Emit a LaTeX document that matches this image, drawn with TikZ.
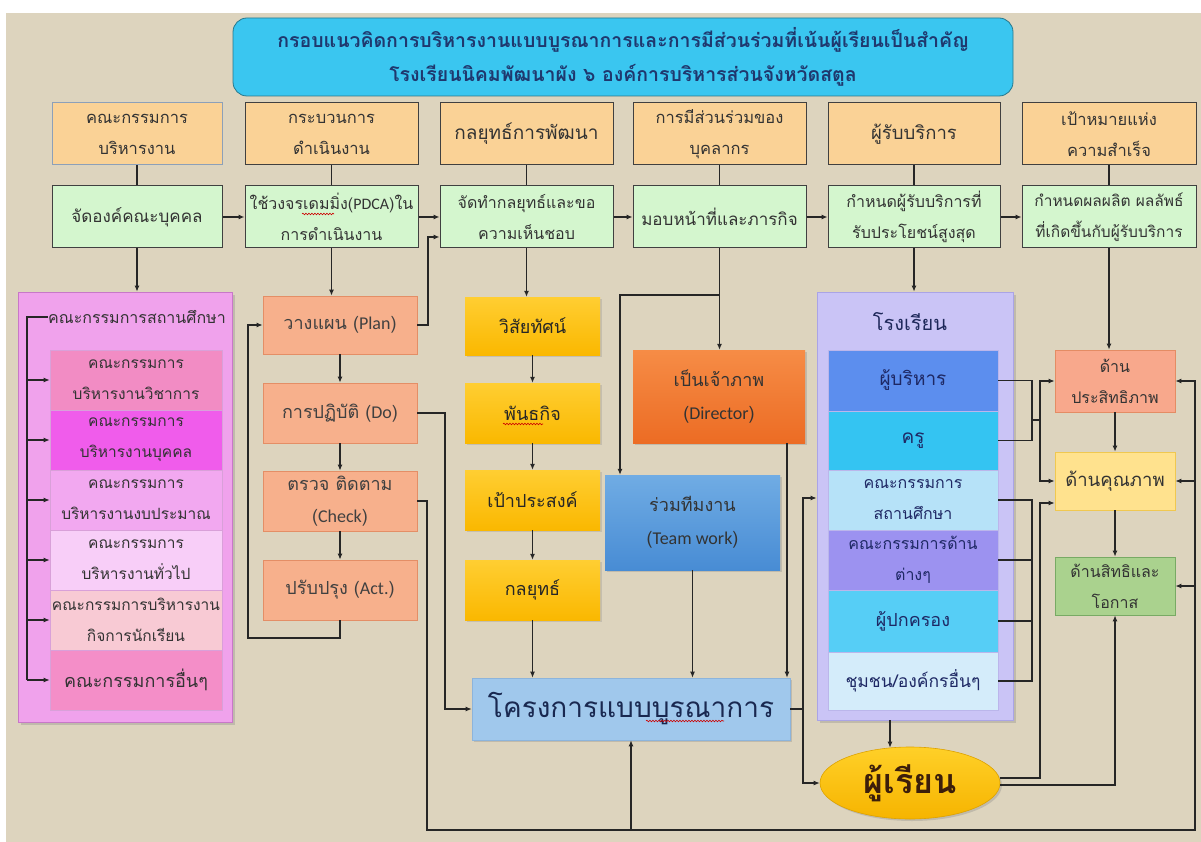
\documentclass[tikz,border=0pt]{standalone}
\usepackage{fontspec}
\setmainfont{Loma}[Script=Thai]
\newfontfamily\lat{Carlito}
\usetikzlibrary{arrows.meta,shadows,calc,shapes.geometric,decorations.pathmorphing}
\definecolor{bgc}{RGB}{221,212,190}
\definecolor{titlec}{RGB}{58,198,240}
\definecolor{titleb}{RGB}{40,120,140}
\definecolor{titlet}{RGB}{31,56,110}
\definecolor{headc}{RGB}{250,210,150}
\definecolor{grnc}{RGB}{212,246,206}
\definecolor{pinko}{RGB}{240,162,236}
\definecolor{pinkb}{RGB}{200,120,200}
\definecolor{pa}{RGB}{242,140,196}
\definecolor{pb}{RGB}{240,92,235}
\definecolor{pc}{RGB}{242,168,240}
\definecolor{pd}{RGB}{248,206,248}
\definecolor{pe}{RGB}{248,202,212}
\definecolor{pf}{RGB}{244,142,200}
\definecolor{pdcac}{RGB}{247,176,140}
\definecolor{pdcab}{RGB}{228,142,102}
\definecolor{yela}{RGB}{255,206,50}
\definecolor{yelb}{RGB}{250,184,0}
\definecolor{dira}{RGB}{246,140,70}
\definecolor{dirb}{RGB}{236,108,36}
\definecolor{twa}{RGB}{112,172,228}
\definecolor{twb}{RGB}{72,140,212}
\definecolor{projc}{RGB}{160,200,236}
\definecolor{scho}{RGB}{202,196,246}
\definecolor{schb}{RGB}{170,164,230}
\definecolor{sa}{RGB}{92,142,238}
\definecolor{sb}{RGB}{52,196,242}
\definecolor{sc}{RGB}{182,226,248}
\definecolor{sd}{RGB}{156,146,240}
\definecolor{se}{RGB}{86,206,246}
\definecolor{sf}{RGB}{212,236,250}
\definecolor{stua}{RGB}{255,208,40}
\definecolor{stub}{RGB}{246,180,0}
\definecolor{effc}{RGB}{248,168,140}
\definecolor{effb}{RGB}{228,140,100}
\definecolor{qualc}{RGB}{255,226,142}
\definecolor{qualb}{RGB}{240,200,80}
\definecolor{rigc}{RGB}{170,210,142}
\definecolor{rigb}{RGB}{120,170,100}
\newcommand\mkbox[7]{%
  \pgfmathsetmacro\mbcx{(#2+#4)/2}%
  \pgfmathsetmacro\mbcy{(#3+#5)/2}%
  \pgfmathsetmacro\mbw{#4-#2}%
  \pgfmathsetmacro\mbh{#5-#3}%
  \node[#6, minimum width=\mbw pt, minimum height=\mbh pt] (#1) at (\mbcx,\mbcy) {#7};}
\tikzset{
  ln/.style={draw=black!85, line width=1.1pt},
  arr/.style={ln, -{Latex[length=6pt,width=5pt]}},
  squig/.style={draw=red!80!black, line width=0.6pt, decorate, decoration={snake, amplitude=0.8pt, segment length=3pt}},
  base/.style={align=center, inner sep=0pt, text=black!80, font=\fontsize{16.5}{31}\selectfont},
  head/.style={base, draw=black!75, line width=1pt, fill=headc},
  grn/.style={base, draw=black!75, line width=1pt, fill=grnc, font=\fontsize{17}{31}\selectfont},
  pinner/.style={base, draw=pinkb!70, line width=0.6pt, font=\fontsize{15.5}{31}\selectfont},
  pdca/.style={base, draw=pdcab, line width=0.8pt, fill=pdcac, font=\fontsize{18}{32}\selectfont, text=black!75},
  yel/.style={base, top color=yela, bottom color=yelb, draw=none, font=\fontsize{18}{32}\selectfont, text=black!85, drop shadow={opacity=0.25, shadow xshift=2pt, shadow yshift=-2pt}},
  sinner/.style={base, draw=schb!80, line width=0.6pt, text={rgb,255:red,30;green,40;blue,100}, font=\fontsize{17}{31}\selectfont},
  rbox/.style={base, line width=0.8pt, font=\fontsize{16}{31}\selectfont}
}
\begin{document}
\begin{tikzpicture}[x=1pt,y=-1pt]
\useasboundingbox (0,0) rectangle (1201,842);
\fill[white] (0,0) rectangle (1201,842);
\fill[bgc] (6,13) rectangle (1201,842);
% title
\mkbox{T}{233}{18}{1013}{96}{draw=titleb, line width=0.8pt, fill=titlec, rounded corners=14pt, align=center, text=titlet, font=\fontsize{19.5}{34}\selectfont\bfseries}{กรอบแนวคิดการบริหารงานแบบบูรณาการและการมีส่วนร่วมที่เน้นผู้เรียนเป็นสำคัญ\\โรงเรียนนิคมพัฒนาผัง ๖ องค์การบริหารส่วนจังหวัดสตูล}
% headers
\mkbox{h1}{52}{103}{222}{165}{head, draw={rgb,255:red,140;green,160;blue,185}}{คณะกรรมการ\\บริหารงาน}
\mkbox{h2}{245}{103}{418}{165}{head}{กระบวนการ\\ดำเนินงาน}
\mkbox{h3}{440}{103}{613}{165}{head, font=\fontsize{19}{31}\selectfont}{กลยุทธ์การพัฒนา}
\mkbox{h4}{633}{103}{806}{165}{head}{การมีส่วนร่วมของ\\บุคลากร}
\mkbox{h5}{828}{103}{1000}{165}{head, font=\fontsize{18.5}{31}\selectfont}{ผู้รับบริการ}
\mkbox{h6}{1022}{103}{1196}{165}{head}{เป้าหมายแห่ง\\ความสำเร็จ}
% green row
\mkbox{g1}{52}{186}{222}{248}{grn}{จัดองค์คณะบุคคล}
\mkbox{g2}{245}{186}{418}{248}{grn, font=\fontsize{16}{31}\selectfont}{ใช้วงจรเดมมิ่ง({\lat PDCA})ใน\\การดำเนินงาน}
\mkbox{g3}{440}{186}{613}{248}{grn, font=\fontsize{16}{31}\selectfont}{จัดทำกลยุทธ์และขอ\\ความเห็นชอบ}
\mkbox{g4}{633}{186}{806}{248}{grn}{มอบหน้าที่และภารกิจ}
\mkbox{g5}{828}{186}{1000}{248}{grn, font=\fontsize{16}{31}\selectfont}{กำหนดผู้รับบริการที่\\รับประโยชน์สูงสุด}
\mkbox{g6}{1022}{186}{1196}{248}{grn, font=\fontsize{15.5}{31}\selectfont}{กำหนดผลผลิต ผลลัพธ์\\ที่เกิดขึ้นกับผู้รับบริการ}
\foreach \i in {1,...,6}{\draw[ln] (h\i.south) -- (g\i.north);}
\draw[arr] (g1.east) -- (g2.west);
\draw[arr] (g2.east) -- (g3.west);
\draw[arr] (g3.east) -- (g4.west);
\draw[arr] (g4.east) -- (g5.west);
\draw[arr] (g5.east) -- (g6.west);
% pink committee block
\mkbox{PO}{18}{292}{232}{722}{draw=pinkb, line width=0.8pt, fill=pinko, drop shadow={opacity=0.3, shadow xshift=3pt, shadow yshift=-3pt}}{}
\node[base, anchor=west, font=\fontsize{16}{31}\selectfont] (PT) at (48,317) {คณะกรรมการสถานศึกษา};
\mkbox{p1}{50}{350}{222}{410}{pinner, fill=pa}{คณะกรรมการ\\บริหารงานวิชาการ}
\mkbox{p2}{50}{410}{222}{470}{pinner, fill=pb}{คณะกรรมการ\\บริหารงานบุคคล}
\mkbox{p3}{50}{470}{222}{530}{pinner, fill=pc}{คณะกรรมการ\\บริหารงานงบประมาณ}
\mkbox{p4}{50}{530}{222}{590}{pinner, fill=pd}{คณะกรรมการ\\บริหารงานทั่วไป}
\mkbox{p5}{50}{590}{222}{650}{pinner, fill=pe}{คณะกรรมการบริหารงาน\\กิจการนักเรียน}
\mkbox{p6}{50}{650}{222}{710}{pinner, fill=pf, font=\fontsize{18}{31}\selectfont}{คณะกรรมการอื่นๆ}
\coordinate (pbus) at (27,680);
\draw[ln] (PT.west) -| (pbus);
\foreach \i in {1,...,6}{\draw[arr] (pbus |- p\i.west) -- (p\i.west);}
\draw[arr] (g1.south) -- (g1.south |- PO.north);
% PDCA
\mkbox{plan}{263}{296}{417}{354}{pdca}{วางแผน ({\lat Plan})}
\mkbox{do}{263}{383}{417}{443}{pdca}{การปฏิบัติ ({\lat Do})}
\mkbox{check}{263}{471}{417}{531}{pdca}{ตรวจ ติดตาม\\({\lat Check})}
\mkbox{act}{263}{560}{417}{620}{pdca}{ปรับปรุง ({\lat Act.})}
\draw[arr] (g2.south) -- (g2.south |- plan.north);
\draw[arr] (plan.south) -- (do.north);
\draw[arr] (do.south) -- (check.north);
\draw[arr] (check.south) -- (act.north);
\coordinate (actL) at (248,638);
\draw[arr] (act.south) |- (actL) |- (plan.west);
\coordinate (pj) at (428,237);
\draw[arr] (plan.east) -| (pj) -- (pj -| g3.west);
% strategy column
\mkbox{vis}{465}{297}{600}{355}{yel}{วิสัยทัศน์}
\mkbox{mis}{465}{383}{600}{443}{yel}{พันธกิจ}
\mkbox{goal}{465}{470}{600}{530}{yel}{เป้าประสงค์}
\mkbox{strat}{465}{560}{600}{620}{yel}{กลยุทธ์}
\draw[arr] (g3.south) -- (g3.south |- vis.north);
\draw[arr] (vis.south) -- (mis.north);
\draw[arr] (mis.south) -- (goal.north);
\draw[arr] (goal.south) -- (strat.north);
% project
\mkbox{proj}{472}{678}{790}{740}{base, fill=projc, draw={rgb,255:red,140;green,180;blue,220}, line width=0.6pt, text={rgb,255:red,25;green,40;blue,80}, font=\fontsize{28}{36}\selectfont, drop shadow={opacity=0.3, shadow xshift=2pt, shadow yshift=-2pt}}{โครงการแบบบูรณาการ}
\draw[arr] (strat.south) -- (strat.south |- proj.north);
% spelling squiggles
\draw[squig] (646,721) -- (724,721);
\draw[squig] (503,424) -- (543,424);
\draw[squig] (302,214) -- (334,214);
% participation column
\mkbox{dir}{633}{350}{805}{443}{base, top color=dira, bottom color=dirb, draw=none, font=\fontsize{18}{33}\selectfont, text=black!80, drop shadow={opacity=0.3, shadow xshift=2pt, shadow yshift=-2pt}}{เป็นเจ้าภาพ\\({\lat Director})}
\mkbox{tw}{605}{475}{780}{570}{base, top color=twa, bottom color=twb, draw=none, font=\fontsize{18}{33}\selectfont, text=black!80, drop shadow={opacity=0.3, shadow xshift=2pt, shadow yshift=-2pt}}{ร่วมทีมงาน\\({\lat Team work})}
\coordinate (j4) at (719.5,295);
\coordinate (twin) at (620,295);
\draw[ln] (g4.south) -- (j4);
\draw[arr] (j4) -- (j4 |- dir.north);
\draw[arr] (j4) -- (twin) -- (twin |- tw.north);
\draw[arr] (tw.south) -- (tw.south |- proj.north);
\coordinate (dr) at (787,443);
\draw[arr] (dr) -- (dr |- proj.north);
\coordinate (dk) at (445,413);
\draw[arr] (do.east) -- (dk) |- (proj.west);
% school
\mkbox{sch}{817}{292}{1013}{720}{draw=schb, line width=0.8pt, fill=scho, drop shadow={opacity=0.3, shadow xshift=3pt, shadow yshift=-3pt}}{}
\node[base, font=\fontsize{20}{31}\selectfont, text={rgb,255:red,30;green,40;blue,90}] (schT) at (910,322) {โรงเรียน};
\mkbox{s1}{828}{350}{998}{411}{sinner, fill=sa, font=\fontsize{19}{31}\selectfont}{ผู้บริหาร}
\mkbox{s2}{828}{411}{998}{470}{sinner, fill=sb, font=\fontsize{19}{31}\selectfont}{ครู}
\mkbox{s3}{828}{470}{998}{530}{sinner, fill=sc, font=\fontsize{16}{31}\selectfont}{คณะกรรมการ\\สถานศึกษา}
\mkbox{s4}{828}{530}{998}{590}{sinner, fill=sd, font=\fontsize{16}{31}\selectfont}{คณะกรรมการด้าน\\ต่างๆ}
\mkbox{s5}{828}{590}{998}{652}{sinner, fill=se, font=\fontsize{18}{31}\selectfont}{ผู้ปกครอง}
\mkbox{s6}{828}{652}{998}{710}{sinner, fill=sf, font=\fontsize{17.5}{31}\selectfont}{ชุมชน/องค์กรอื่นๆ}
\draw[arr] (g5.south) -- (g5.south |- sch.north);
% student
\node[ellipse, minimum width=180pt, minimum height=72pt, inner sep=0pt, top color=stua, bottom color=stub, draw=stub!90!black, line width=0.6pt, font=\fontsize{34}{40}\selectfont\bfseries, text={rgb,255:red,60;green,30;blue,10}, drop shadow={opacity=0.3, shadow xshift=2pt, shadow yshift=-2pt}] (stu) at (910,783) {ผู้เรียน};
\draw[arr] ($(sch.south)+(-25,0)$) -- ($(stu.north)+(-20,1)$);
\coordinate (pv) at (803,709);
\coordinate (pvt) at (803,498);
\draw[ln] (proj.east) -- (pv);
\draw[arr] (pv) -- (pvt) -- (pvt -| sch.west);
\draw[arr] (pv) |- (stu.west);
% result boxes
\mkbox{eff}{1055}{350}{1175}{412}{rbox, fill=effc, draw=effb}{ด้าน\\ประสิทธิภาพ}
\mkbox{qual}{1055}{452}{1175}{510}{rbox, fill=qualc, draw=qualb, font=\fontsize{18.5}{31}\selectfont}{ด้านคุณภาพ}
\mkbox{rig}{1055}{557}{1175}{615}{rbox, fill=rigc, draw=rigb}{ด้านสิทธิและ\\โอกาส}
\draw[arr] (g6.south) -- (g6.south |- eff.north);
\draw[arr] (eff.south) -- (qual.north);
\draw[arr] (qual.south) -- (rig.north);
% school to results
\coordinate (ba) at (1032,420);
\coordinate (bb) at (1040,420);
\draw[ln] (s1.east) -| (ba) |- (s2.east);
\draw[ln] (ba) -- (bb);
\draw[arr] (bb) |- (eff.west);
\draw[arr] (bb) |- (qual.west);
\coordinate (bc) at (1032,681);
\draw[ln] (s3.east) -| (bc) -- (s6.east);
\draw[ln] (s4.east) -- (s4.east -| bc);
\draw[ln] (s5.east) -- (s5.east -| bc);
\coordinate (sq) at (1040,503);
\draw[arr] ($(stu.east)+(0,-5)$) -| (sq) -- (sq -| qual.west);
\draw[arr] ($(stu.east)+(0,2)$) -| (rig.south);
% bottom loop
\coordinate (bl) at (427,830);
\coordinate (br) at (1195,830);
\draw[arr] (check.east) -| (bl) -- (br) |- (eff.east);
\draw[arr] (br |- qual.east) -- (qual.east);
\draw[arr] (br |- rig.east) -- (rig.east);
\draw[arr] (bl -| proj.south) -- (proj.south);
\end{tikzpicture}
\end{document}
